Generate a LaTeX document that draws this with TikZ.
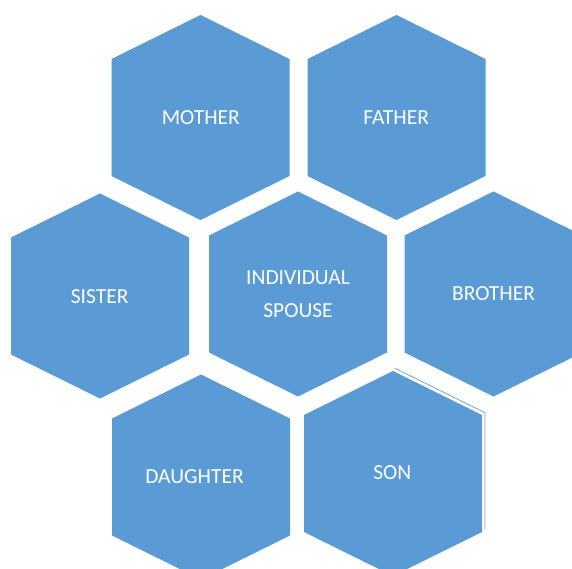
\documentclass[tikz,border=0pt]{standalone}
\usepackage{fontspec}
\setmainfont{Carlito}
\definecolor{hexblue}{HTML}{5B9BD5}
\definecolor{hexline}{HTML}{6FA6DA}
\tikzset{
  hexlabel/.style={text=white, font=\fontsize{21.5}{33}\selectfont, align=center, inner sep=0pt},
}
% hexagon: center (cx,cy), half width 89, tip offset 102.5, side offset 58.5
\newcommand{\hexfill}[2]{%
  \fill[hexblue] (#1,#2) ++(0,-102.5) -- ++(89,44) -- ++(0,117) -- ++(-89,44) -- ++(-89,-44) -- ++(0,-117) -- cycle;}
\begin{document}
\begin{tikzpicture}[x=1pt,y=-1pt]
\clip (0,0) rectangle (572,569);
\fill[white] (0,0) rectangle (572,569);
\hexfill{200.5}{117.5}
\hexfill{396.5}{117.5}
\hexfill{100}{296}
\hexfill{298}{294}
\hexfill{493.5}{294}
\hexfill{201}{477}
\hexfill{393}{473.5}
\node[hexlabel] (mother) at (200.8,117.5) {MOTHER};
\node[hexlabel] (father) at (396.2,117.5) {FATHER};
\node[hexlabel] (sister) at (99.6,296.5) {SISTER};
\node[hexlabel] (individual) at (298,294) {INDIVIDUAL\\SPOUSE};
\node[hexlabel] (brother) at (493.5,293.5) {BROTHER};
\node[hexlabel] (daughter) at (194.5,476.5) {DAUGHTER};
\node[hexlabel] (son) at (392.3,473) {SON};
\coordinate (s1) at (395,368.3);
\coordinate (s2) at (485,412.7);
\coordinate (s3) at (485,529);
\draw[hexline, line width=0.8pt] (s1) -- (s2) -- (s3);
\end{tikzpicture}
\end{document}
